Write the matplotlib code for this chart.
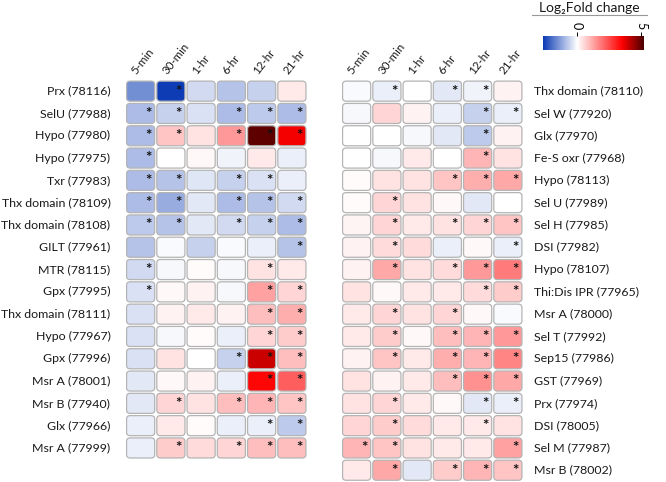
import matplotlib.pyplot as plt
import matplotlib as mpl
from matplotlib.colors import LinearSegmentedColormap, Normalize
from matplotlib.patches import FancyBboxPatch

plt.rcParams['font.family'] = ['Lato', 'DejaVu Sans']

times = ['5-min', '30-min', '1-hr', '6-hr', '12-hr', '21-hr']

left_genes = ['Prx (78116)', 'SelU (77988)', 'Hypo (77980)', 'Hypo (77975)', 'Txr (77983)',
              'Thx domain (78109)', 'Thx domain (78108)', 'GILT (77961)', 'MTR (78115)',
              'Gpx (77995)', 'Thx domain (78111)', 'Hypo (77967)', 'Gpx (77996)',
              'Msr A (78001)', 'Msr B (77940)', 'Glx (77966)', 'Msr A (77999)']
left_vals = [
    [-1.5, -2.6, -0.5, -0.8, -0.6, 0.3],
    [-0.9, -0.6, -0.4, -0.9, -0.7, -0.9],
    [-0.9, 0.8, 0.4, 1.4, 5.0, 3.6],
    [-0.9, 0.0, 0.1, -0.15, 0.3, -0.2],
    [-0.9, -0.8, -0.35, -0.6, -0.4, -0.2],
    [-0.9, -1.1, -0.3, -0.9, -0.8, -0.5],
    [-0.7, -0.8, -0.3, -0.5, -0.6, -0.9],
    [-0.8, -0.05, -0.6, -0.05, -0.2, -0.8],
    [-0.5, -0.1, 0.05, -0.1, 0.4, 0.3],
    [-0.4, 0.1, 0.2, -0.1, 1.3, 0.6],
    [-0.4, 0.2, 0.3, 0.2, 0.9, 1.1],
    [-0.4, -0.1, 0.05, -0.2, 0.6, 0.7],
    [-0.4, 0.4, 0.0, -0.6, 4.0, 0.9],
    [-0.3, 0.1, 0.2, -0.2, 3.4, 2.2],
    [-0.3, 0.6, 0.4, 0.9, 1.0, 0.8],
    [-0.2, 0.3, 0.05, -0.2, -0.2, -0.7],
    [-0.2, 0.7, 0.5, 0.6, 0.9, 0.9],
]
left_sig = [
    [0, 1, 0, 0, 0, 0],
    [1, 1, 0, 1, 1, 1],
    [1, 1, 0, 1, 1, 1],
    [1, 0, 0, 0, 0, 0],
    [1, 1, 0, 1, 1, 0],
    [1, 1, 0, 1, 1, 1],
    [1, 1, 0, 1, 1, 1],
    [0, 0, 0, 0, 0, 1],
    [1, 0, 0, 0, 1, 0],
    [1, 0, 0, 0, 1, 1],
    [0, 0, 0, 0, 1, 1],
    [0, 0, 0, 0, 1, 1],
    [0, 0, 0, 1, 1, 1],
    [0, 0, 0, 0, 1, 1],
    [0, 1, 0, 1, 1, 1],
    [0, 0, 0, 0, 1, 1],
    [0, 1, 0, 1, 1, 1],
]

right_genes = ['Thx domain (78110)', 'Sel W (77920)', 'Glx (77970)', 'Fe-S oxr (77968)',
               'Hypo (78113)', 'Sel U (77989)', 'Sel H (77985)', 'DSI (77982)',
               'Hypo (78107)', 'Thi:Dis IPR (77965)', 'Msr A (78000)', 'Sel T (77992)',
               'Sep15 (77986)', 'GST (77969)', 'Prx (77974)', 'DSI (78005)',
               'Sel M (77987)', 'Msr B (78002)']
right_vals = [
    [-0.05, -0.2, 0.0, -0.3, -0.15, 0.2],
    [-0.1, 0.6, 0.2, -0.2, -0.6, -0.2],
    [0.0, 0.0, -0.1, -0.3, -0.7, 0.2],
    [0.0, -0.1, 0.3, 0.0, 1.0, 0.4],
    [0.05, 0.4, 0.4, 0.8, 1.1, 1.2],
    [0.05, 0.6, 0.4, 0.1, -0.3, 0.0],
    [0.15, 0.6, 0.3, 0.4, 0.6, 0.8],
    [0.2, 0.5, 0.5, -0.2, 0.1, -0.2],
    [0.2, 1.2, 0.4, 0.5, 1.4, 1.8],
    [0.4, 0.1, 0.3, 0.3, 0.5, 0.7],
    [0.3, 0.6, 0.4, 0.6, 0.1, -0.05],
    [0.3, 0.7, 0.1, 0.9, 1.0, 1.4],
    [0.2, 0.8, 0.3, 1.1, 1.0, 1.7],
    [0.4, 0.2, 0.3, 0.9, 1.5, 1.2],
    [0.4, 0.6, 0.3, 0.1, -0.3, -0.2],
    [0.6, 0.7, 0.5, 0.3, 0.3, 0.4],
    [1.0, 0.8, 0.4, 0.3, 0.3, 1.3],
    [0.3, 1.2, -0.3, 0.7, 1.0, 0.8],
]
right_sig = [
    [0, 1, 0, 1, 1, 0],
    [0, 0, 0, 0, 1, 1],
    [0, 0, 0, 0, 1, 0],
    [0, 0, 0, 0, 1, 0],
    [0, 0, 0, 1, 1, 1],
    [0, 1, 0, 0, 0, 0],
    [0, 1, 0, 1, 1, 1],
    [0, 1, 0, 0, 0, 1],
    [0, 1, 0, 1, 1, 1],
    [0, 0, 0, 0, 1, 1],
    [0, 1, 0, 1, 0, 0],
    [0, 1, 0, 1, 1, 1],
    [0, 1, 0, 1, 1, 1],
    [0, 0, 0, 1, 1, 1],
    [0, 1, 0, 0, 1, 1],
    [0, 1, 0, 0, 1, 0],
    [1, 1, 0, 0, 0, 1],
    [0, 1, 0, 1, 1, 1],
]

vmin, vmax = -2.65, 5.2
z = -vmin / (vmax - vmin)
r = (3.5 - vmin) / (vmax - vmin)
cmap = LinearSegmentedColormap.from_list(
    'bwr2', [(0, '#0a3ab4'), (z, '#ffffff'), (r, '#ff0000'), (1, '#4a0000')])
norm = Normalize(vmin, vmax)

W, H = 666, 482
fig = plt.figure(figsize=(W / 100, H / 100), dpi=100)

pitch = 22.3


def heatmap(x0, x1, top, genes, vals, sig, label_side):
    n = len(genes)
    bottom = top + n * pitch
    ax = fig.add_axes([x0 / W, 1 - bottom / H, (x1 - x0) / W, (bottom - top) / H])
    ax.set_xlim(0, 6)
    ax.set_ylim(n, 0)
    ax.axis('off')
    for i in range(n):
        for j in range(6):
            p = FancyBboxPatch((j + 0.035, i + 0.05), 0.93, 0.9,
                               boxstyle='round,pad=0,rounding_size=0.12',
                               mutation_aspect=1.3,
                               facecolor=cmap(norm(vals[i][j])),
                               edgecolor='#b4b4b4', linewidth=0.9)
            ax.add_patch(p)
            if sig[i][j]:
                ax.text(j + 0.75, i + 0.52, '*', ha='center', va='center',
                        fontsize=11, fontweight='bold', color='#111111')
        if label_side == 'left':
            ax.text(-0.5, i + 0.5, genes[i], ha='right', va='center',
                    fontsize=8.9, color='#1a1a1a')
        else:
            ax.text(6.35, i + 0.5, genes[i], ha='left', va='center',
                    fontsize=8.9, color='#1a1a1a')
    for j, t in enumerate(times):
        ax.text(j + 0.28, -0.3, t, rotation=52, rotation_mode='anchor',
                ha='left', va='center', fontsize=8.3, color='#1a1a1a')
    return ax


heatmap(125.5, 307, 80, left_genes, left_vals, left_sig, 'left')
heatmap(341.5, 523, 80, right_genes, right_vals, right_sig, 'right')

# colorbar
cax = fig.add_axes([543 / W, 1 - 50 / H, 101 / W, 14 / H])
cb = fig.colorbar(mpl.cm.ScalarMappable(norm=norm, cmap=cmap), cax=cax,
                  orientation='horizontal', ticks=[0, 5])
cb.outline.set_visible(False)
cax.xaxis.set_ticks_position('top')
cax.tick_params(length=3, width=0.7, pad=1.5, labelsize=9)
for lab in cax.get_xticklabels():
    lab.set_rotation(-90)
    lab.set_va('bottom')

fig.text(589 / W, 1 - 12 / H, 'Log\u2082Fold change', ha='center', va='baseline',
         fontsize=10, color='#1a1a1a')
fig.add_artist(plt.Line2D([532 / W, 647 / W], [1 - 15 / H, 1 - 15 / H],
                          color='#999999', linewidth=0.8))

fig.savefig('out.png', dpi=100)
